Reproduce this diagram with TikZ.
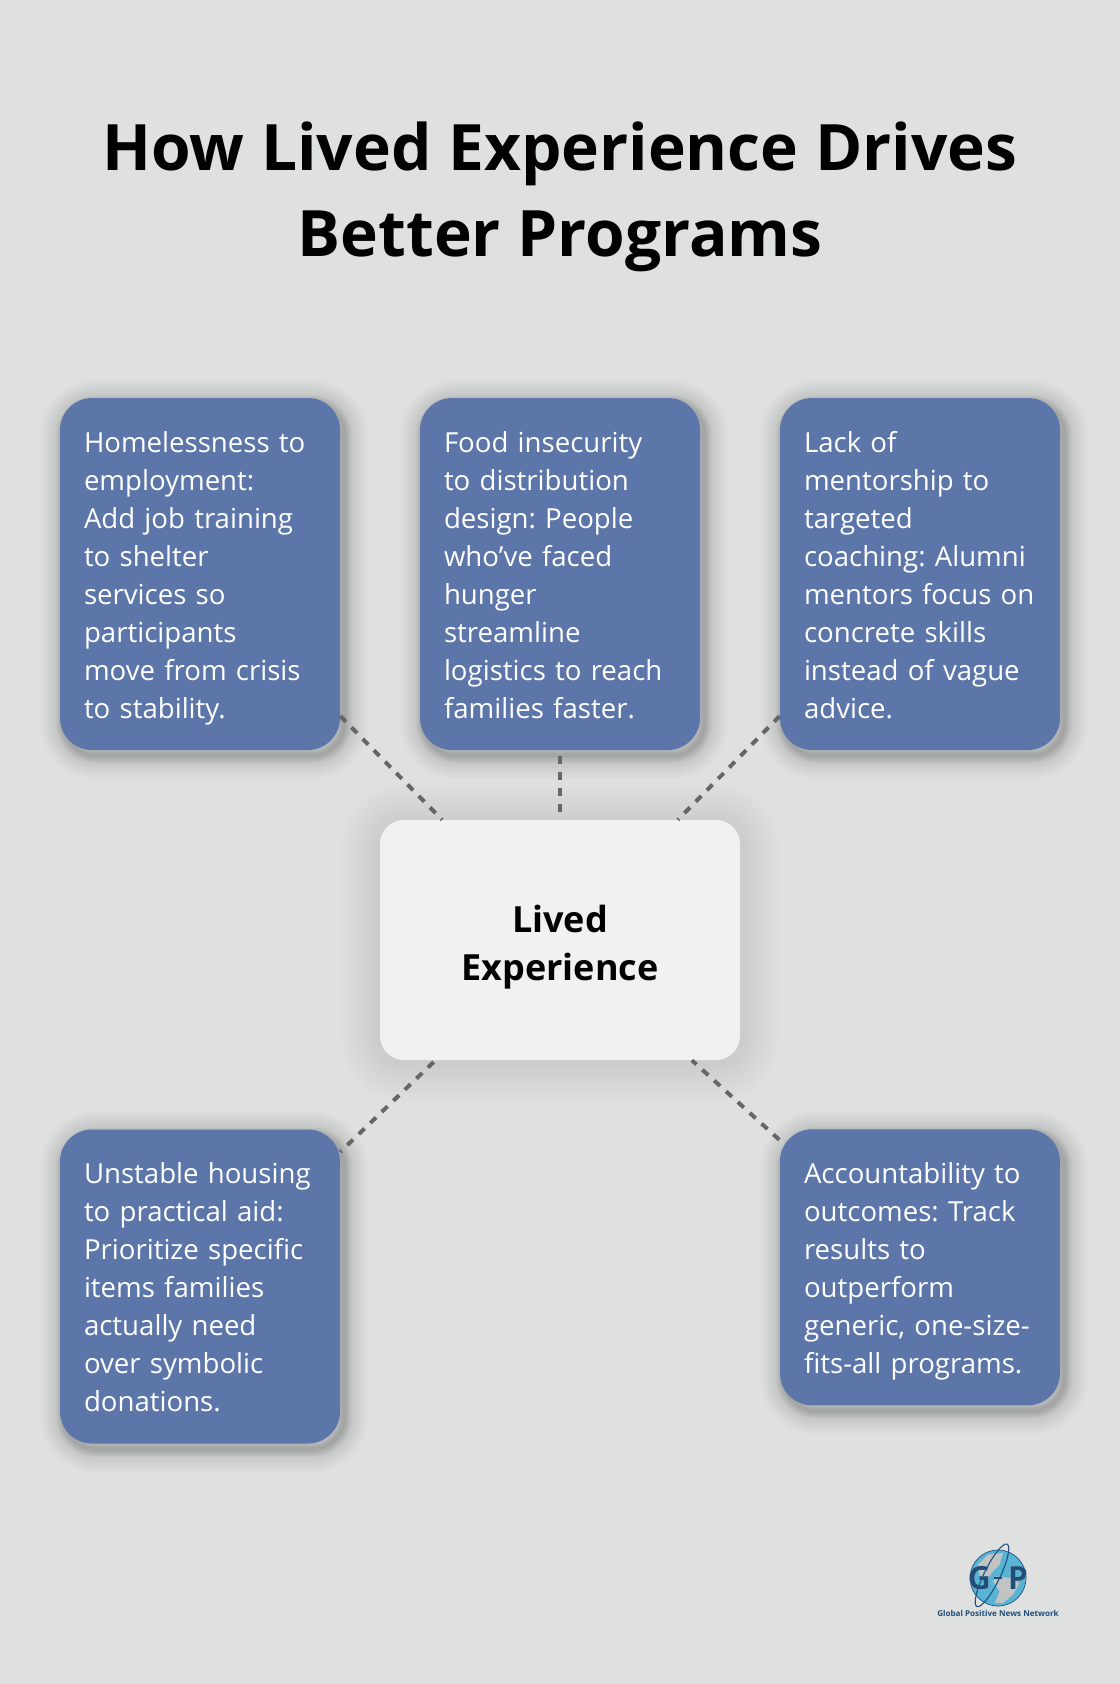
\documentclass[tikz,border=0pt]{standalone}
\usepackage{fontspec}
\setmainfont{Open Sans}
\usepackage[outline]{contour}
\contourlength{0.8pt}
\frenchspacing
\definecolor{pagegrey}{HTML}{DFE1E1}
\definecolor{cardblue}{HTML}{5D76A9}
\definecolor{hubgrey}{HTML}{EFF1F3}
\definecolor{linkgrey}{HTML}{666666}
\definecolor{logoblue}{HTML}{1F4E79}
\definecolor{logosea}{HTML}{58B3D4}
\definecolor{logoland}{HTML}{C2C4C4}
\newcommand{\cardstrut}{\rule[-5.8pt]{0pt}{28.5pt}}
\newcommand{\hubstrut}{\rule[-5pt]{0pt}{36pt}}
\tikzset{
	cardwide/.style={preaction={draw=black, fill=none, line width=#1pt, draw opacity=.008, transform canvas={xshift=3pt, yshift=-4pt}}},
	cardtight/.style={preaction={draw=black, fill=none, line width=#1pt, draw opacity=.016, transform canvas={xshift=3pt, yshift=-4pt}}},
	hubring/.style={preaction={draw=black, fill=none, line width=#1pt, draw opacity=.005, transform canvas={yshift=-2pt}}},
	card shadow/.style={cardwide/.list={36,34,...,14}, cardtight/.list={12,11,...,2}},
	hub shadow/.style={hubring/.list={60,57,...,3}},
	card/.style={draw=none, fill=cardblue, rounded corners=24pt, text=white, align=left, minimum width=210pt, text width=174pt, inner xsep=18pt, inner ysep=0pt, font=\fontsize{20.7}{28.5}\selectfont, execute at begin node=\cardstrut, execute at end node=\cardstrut, card shadow},
	hub/.style={draw=none, fill=hubgrey, rounded corners=18pt, minimum width=270pt, minimum height=180pt, text width=240pt, align=center, inner ysep=0pt, font=\fontsize{27}{36}\selectfont\bfseries, execute at begin node=\hubstrut, execute at end node=\hubstrut, hub shadow},
	link/.style={draw=linkgrey, line width=3pt, dash pattern=on 6pt off 6pt},
}
\begin{document}
\begin{tikzpicture}
	\useasboundingbox[fill=pagegrey] (0pt,0pt) rectangle (840pt,-1263pt);

	\node[align=center, font=\fontsize{48}{64.5}\selectfont\bfseries](TITLE) at (420pt,-148pt){How Lived Experience Drives\\Better Programs};

	\node[card, minimum height=264pt](C1) at (150pt,-430.5pt){Homelessness to\\employment:\\Add job training\\to shelter\\services so\\participants\\move from crisis\\to stability.};
	\node[card, minimum height=264pt, right of=C1, node distance=270pt](C2){Food insecurity\\to distribution\\design: People\\who’ve faced\\hunger\\streamline\\logistics to reach\\families faster.};
	\node[card, minimum height=264pt, right of=C2, node distance=270pt](C3){Lack of\\mentorship to\\targeted\\coaching: Alumni\\mentors focus on\\concrete skills\\instead of vague\\advice.};

	\node[hub, below of=C2, node distance=274.5pt](HUB){Lived\\Experience};

	\node[card, minimum height=235.5pt, below of=C1, node distance=534.4pt](C4){Unstable housing\\to practical aid:\\Prioritize specific\\items families\\actually need\\over symbolic\\donations.};
	\node[card, minimum height=207pt, below of=C3, node distance=520pt](C5){Accountability to\\outcomes: Track\\results to\\outperform\\generic, one-size-\\fits-all programs.};

	\draw[link] (C1) -- (HUB);
	\draw[link, shorten <=4.5pt] (C2) -- (HUB);
	\draw[link] (C3) -- (HUB);
	\draw[link, shorten <=1.8pt] (HUB) -- (C4);
	\draw[link, dash phase=1.35pt] (HUB) -- (C5);

	\node[circle, fill=logosea, draw=logoblue, line width=0.5pt, minimum size=42pt, inner sep=0pt](GLOBE) at (748.5pt,-1183.5pt){};
	\begin{scope}[shift={(GLOBE.center)}, x=0.25pt, y=-0.25pt]
		\clip (0,0) circle (82);
		\fill[logoland] (-60,-40) -- (-30,-70) -- (15,-75) -- (5,-40) -- (-15,-20) -- (-30,0) -- (-55,0) -- cycle;
		\fill[logoland] (-5,-5) -- (40,0) -- (65,15) -- (45,50) -- (15,75) -- (-10,75) -- (5,40) -- (-15,10) -- cycle;
	\end{scope}
	\draw[logoblue, line width=0.8pt, rotate around={64:(744pt,-1181.5pt)}] (744pt,-1181.5pt) ellipse (26pt and 6pt);
	\draw[logoblue, line width=1pt] ([xshift=-3pt]GLOBE.center) -- ([xshift=3pt]GLOBE.center);
	\node[text=logoblue, font=\fontsize{24}{24}\selectfont\bfseries, left of=GLOBE, node distance=14pt](LOGOG){\contour{white}{G}};
	\node[text=logoblue, font=\fontsize{24}{24}\selectfont\bfseries, right of=GLOBE, node distance=15pt](LOGOP){\contour{white}{P}};
	\node[text=logoblue, font=\fontsize{6.05}{7}\selectfont\bfseries, below of=GLOBE, node distance=26.5pt](LOGOTXT){Global Positive News Network};
\end{tikzpicture}
\end{document}
